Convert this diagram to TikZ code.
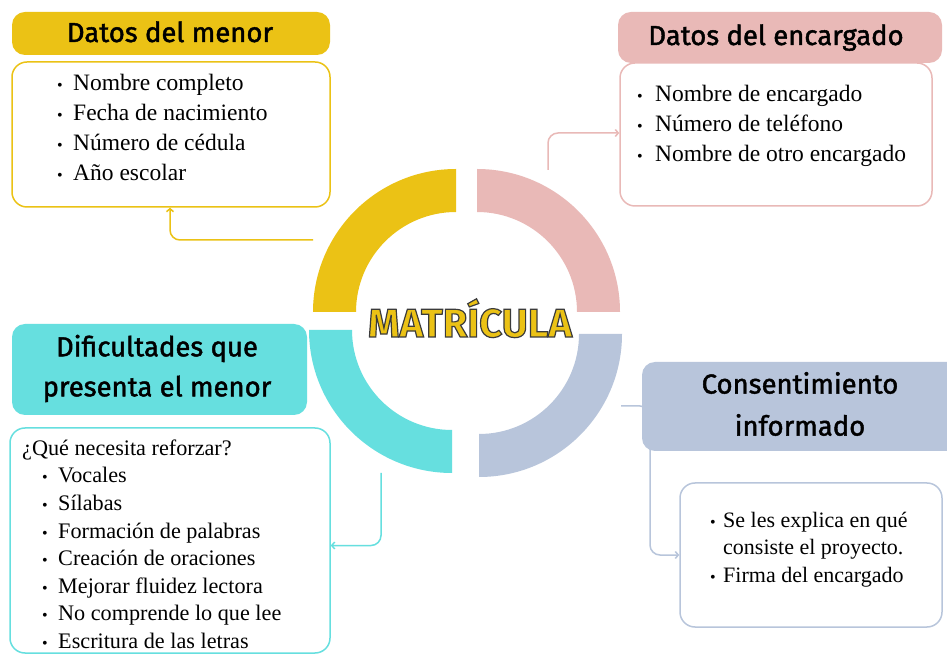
\documentclass[tikz,border=0pt]{standalone}
\usepackage{fontspec}
\setmainfont{Liberation Serif}
\newfontfamily\headfont[FakeBold=1.6]{Fira Sans}
\newfontfamily\titlefont[FakeBold=3]{Fira Sans Bold}
\usetikzlibrary{arrows.meta}
\definecolor{ylw}{HTML}{EBC215}
\definecolor{pnk}{HTML}{E9B9B7}
\definecolor{cyn}{HTML}{66DFDF}
\definecolor{blu}{HTML}{B8C5DB}
\newcommand{\bitem}[2][15pt]{\makebox[#1][l]{\fontsize{16}{16}\selectfont\textbullet}#2\strut}
\newcommand{\darkstroke}{\special{pdf:literal direct 0.23 0.23 0.23 RG}}
\tikzset{
  headbox/.style={fill=#1, rounded corners=13pt, inner sep=0pt},
  bodybox/.style={draw=#1, line width=1.5pt, fill=white, rounded corners=15pt, inner sep=0pt},
  htext/.style={font=\headfont\fontsize{27.5}{40}\selectfont, align=center, inner sep=0pt},
  ltext/.style={align=left, inner sep=0pt, anchor=north west},
  conn/.style={draw=#1, line width=1.5pt, rounded corners=10pt, -{Straight Barb[length=3pt,width=7pt]}}
}
\begin{document}
\begin{tikzpicture}[x=1pt,y=1pt]
\useasboundingbox (0,0) rectangle (947,656);
\clip (0,0) rectangle (947,656);
\fill[white] (0,0) rectangle (947,656);

% ring quadrants
\fill[ylw] (456,344) ++(90:143) arc (90:180:143) -- ++(43,0) arc (180:90:100) -- cycle;
\fill[pnk] (477,344) ++(0:143) arc (0:90:143) -- ++(0,-43) arc (90:0:100) -- cycle;
\fill[cyn] (452,326) ++(180:143) arc (180:270:143) -- ++(0,43) arc (270:180:100) -- cycle;
\fill[blu] (479,322) ++(270:143) arc (270:360:143) -- ++(-43,0) arc (360:270:100) -- cycle;

\node[font=\titlefont\fontsize{40}{40}\selectfont, anchor=base, inner sep=0pt] (title) at (470,319) {\color{ylw}\darkstroke MATRÍCULA};

% connector start points
\coordinate (ys) at (313,416);
\coordinate (ps) at (548,486);
\coordinate (cs) at (381,183);
\coordinate (bs) at (621,250);
\coordinate (bturn) at (650,150);

% body boxes
\node[bodybox=ylw, minimum width=318pt, minimum height=145pt] (menorbody) at (171,521.5) {};
\node[bodybox=pnk, minimum width=312pt, minimum height=143pt] (encbody) at (776,521.5) {};
\node[bodybox=cyn, minimum width=320pt, minimum height=225pt] (difbody) at (170,115.5) {};
\node[bodybox=blu, minimum width=262pt, minimum height=144pt] (conbody) at (811,101) {};

% connectors
\draw[conn=ylw] (ys) -| ([xshift=-1pt]menorbody.south);
\draw[conn=pnk] (ps) |- ([yshift=1.5pt]encbody.west);
\draw[conn=cyn] (cs) |- ([yshift=-5pt]difbody.east);
\draw[conn=blu] (bs) -| (bturn) |- (conbody.west);

% headers
\node[headbox=ylw, minimum width=318pt, minimum height=43pt] (menorhead) at (171,622.5) {};
\node[headbox=pnk, minimum width=324pt, minimum height=51pt] (enchead) at (780,618.5) {};
\node[headbox=cyn, minimum width=295pt, minimum height=91pt] (difhead) at (159.5,286.5) {};
\node[headbox=blu, minimum width=318pt, minimum height=89pt] (conhead) at (801,249.5) {};

\node[htext, anchor=base] (menortitle) at (170,614) {Datos del menor};
\node[htext, anchor=base] (enctitle) at (776,611) {Datos del encargado};
\node[htext] (diftitle) at (157,287.5) {Dificultades que\\presenta el menor};
\node[htext, font=\headfont\fontsize{27.5}{42}\selectfont] (contitle) at (800,252) {Consentimiento\\informado};

% lists
\node[ltext, font=\fontsize{23.5}{30}\selectfont] (menorlist) at (57,587) {%
\bitem[16pt]{Nombre completo}\\
\bitem[16pt]{Fecha de nacimiento}\\
\bitem[16pt]{Número de cédula}\\
\bitem[16pt]{Año escolar}};

\node[ltext, font=\fontsize{23.5}{30}\selectfont] (enclist) at (637,576) {%
\bitem[18pt]{Nombre de encargado}\\
\bitem[18pt]{Número de teléfono}\\
\bitem[18pt]{Nombre de otro encargado}};

\node[ltext, font=\fontsize{22.2}{27.6}\selectfont] (diflist) at (22,220.3) {%
¿Qué necesita reforzar?\strut\\
\hspace*{20pt}\bitem[16pt]{Vocales}\\
\hspace*{20pt}\bitem[16pt]{Sílabas}\\
\hspace*{20pt}\bitem[16pt]{Formación de palabras}\\
\hspace*{20pt}\bitem[16pt]{Creación de oraciones}\\
\hspace*{20pt}\bitem[16pt]{Mejorar fluidez lectora}\\
\hspace*{20pt}\bitem[16pt]{No comprende lo que lee}\\
\hspace*{20pt}\bitem[16pt]{Escritura de las letras}};

\node[ltext, font=\fontsize{22}{27.5}\selectfont] (conlist) at (710,148.25) {%
\bitem[13pt]{Se les explica en qué}\\
\hspace*{13pt}consiste el proyecto.\strut\\
\bitem[13pt]{Firma del encargado}};
\end{tikzpicture}
\end{document}
